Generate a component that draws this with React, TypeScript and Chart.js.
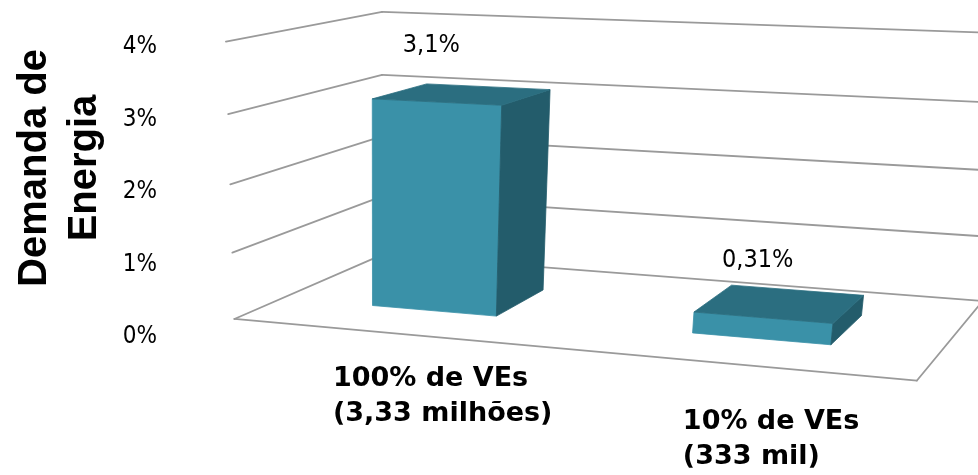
import React, { useEffect, useRef } from 'react';
import { Chart, registerables } from 'chart.js';

Chart.register(...registerables);

// ---- data ----
const categoryLines: string[][] = [
  ['100% de VEs', '(3,33 milhões)'],
  ['10% de VEs', '(333 mil)'],
];
const demandValues: number[] = [3.1, 0.31];
const valueLabels: string[] = ['3,1%', '0,31%'];
const yMin = 0;
const yMax = 4;
const yStep = 1;
const yTitleLines: string[] = ['Demanda de', 'Energia'];

// ---- 3D view: camera calibration (world X 0..1 across floor, Y 0..1 of value range, Z 0..1 front->back) ----
const CAMERA_POINTS: number[][] = [
  [0, 1, 0, 226, 43], [0, 0.75, 0, 228, 113], [0, 0.5, 0, 230, 183], [0, 0.25, 0, 232, 253], [0, 0, 0, 235, 320],
  [0, 1, 1, 382, 13], [0, 0.75, 1, 382, 74], [0, 0.5, 1, 382, 136], [0, 0.25, 1, 382, 196], [0, 0, 1, 382, 255],
  [1, 0, 0, 917, 380], [1, 0, 1, 982, 302], [1, 0.5, 1, 1000, 170], [1, 1, 1, 1017, 34],
];
const BAR_Z: [number, number] = [0.3, 0.68];

const COLORS = {
  front: '#3A91A8',
  side: '#235C6B',
  top: '#2B6E80',
  grid: '#9A9A9A',
  text: '#000000',
};
const TICK_FONT = '"DejaVu Sans Condensed", "DejaVu Sans", sans-serif';
const LABEL_FONT = '"DejaVu Sans Condensed", "DejaVu Sans", sans-serif';

function solveCamera(pts: number[][]): number[] {
  const n = 11;
  const S = 1000;
  const M: number[][] = Array.from({ length: n }, () => new Array(n + 1).fill(0));
  for (const [X, Y, Z, u0, v0] of pts) {
    const u = u0 / S, v = v0 / S;
    const rows: [number[], number][] = [
      [[X, Y, Z, 1, 0, 0, 0, 0, -u * X, -u * Y, -u * Z], u],
      [[0, 0, 0, 0, X, Y, Z, 1, -v * X, -v * Y, -v * Z], v],
    ];
    for (const [r, b] of rows) {
      for (let i = 0; i < n; i++) {
        for (let j = 0; j < n; j++) M[i][j] += r[i] * r[j];
        M[i][n] += r[i] * b;
      }
    }
  }
  for (let c = 0; c < n; c++) {
    let p = c;
    for (let r = c + 1; r < n; r++) if (Math.abs(M[r][c]) > Math.abs(M[p][c])) p = r;
    const tmp = M[c]; M[c] = M[p]; M[p] = tmp;
    for (let r = 0; r < n; r++) {
      if (r === c) continue;
      const f = M[r][c] / M[c][c];
      for (let k = c; k <= n; k++) M[r][k] -= f * M[c][k];
    }
  }
  return M.map((row, i) => row[n] / row[i]);
}

const CAM = solveCamera(CAMERA_POINTS);

function project(X: number, Y: number, Z: number): [number, number] {
  const p = CAM;
  const w = p[8] * X + p[9] * Y + p[10] * Z + 1;
  const u = (p[0] * X + p[1] * Y + p[2] * Z + p[3]) / w;
  const v = (p[4] * X + p[5] * Y + p[6] * Z + p[7]) / w;
  return [u * 1000, v * 1000];
}

type P3 = [number, number, number];

const scenePlugin = {
  id: 'scene3d',
  beforeDatasetsDraw(chart: any) {
    const ctx: CanvasRenderingContext2D = chart.ctx;
    const ys = chart.scales.y;
    const normY = (v: number) => (ys.bottom - ys.getPixelForValue(v)) / (ys.bottom - ys.top);
    const seg = (a: P3, b: P3) => {
      const pa = project(a[0], a[1], a[2]);
      const pb = project(b[0], b[1], b[2]);
      ctx.beginPath();
      ctx.moveTo(pa[0], pa[1]);
      ctx.lineTo(pb[0], pb[1]);
      ctx.stroke();
    };
    ctx.save();
    ctx.strokeStyle = COLORS.grid;
    ctx.lineWidth = 1.8;
    ctx.lineCap = 'round';
    for (const t of ys.ticks) {
      const Y = normY(t.value);
      seg([0, Y, 0], [0, Y, 1]);
      seg([0, Y, 1], [1, Y, 1]);
    }
    seg([0, 0, 0], [1, 0, 0]);
    seg([1, 0, 0], [1, 0, 1]);
    ctx.restore();
  },
  afterDatasetsDraw(chart: any) {
    const ctx: CanvasRenderingContext2D = chart.ctx;
    const xs = chart.scales.x;
    const ys = chart.scales.y;
    const meta = chart.getDatasetMeta(0);
    const [Z0, Z1] = BAR_Z;
    ctx.save();
    meta.data.forEach((el: any, i: number) => {
      const X0 = (el.x - el.width / 2 - xs.left) / xs.width;
      const X1 = (el.x + el.width / 2 - xs.left) / xs.width;
      const Y0 = (ys.bottom - el.base) / (ys.bottom - ys.top);
      const Y1 = (ys.bottom - el.y) / (ys.bottom - ys.top);
      const faces: { pts: P3[]; color: string }[] = [
        { pts: [[X0, Y0, Z0], [X1, Y0, Z0], [X1, Y1, Z0], [X0, Y1, Z0]], color: COLORS.front },
        { pts: [[X1, Y0, Z0], [X1, Y0, Z1], [X1, Y1, Z1], [X1, Y1, Z0]], color: COLORS.side },
        { pts: [[X0, Y0, Z1], [X0, Y0, Z0], [X0, Y1, Z0], [X0, Y1, Z1]], color: COLORS.side },
        { pts: [[X0, Y1, Z0], [X1, Y1, Z0], [X1, Y1, Z1], [X0, Y1, Z1]], color: COLORS.top },
      ];
      for (const f of faces) {
        const pp = f.pts.map((q) => project(q[0], q[1], q[2]));
        let area = 0;
        for (let k = 0; k < pp.length; k++) {
          const a = pp[k], b = pp[(k + 1) % pp.length];
          area += a[0] * b[1] - b[0] * a[1];
        }
        if (area >= 0) continue;
        ctx.beginPath();
        pp.forEach((q, k) => (k ? ctx.lineTo(q[0], q[1]) : ctx.moveTo(q[0], q[1])));
        ctx.closePath();
        ctx.fillStyle = f.color;
        ctx.strokeStyle = f.color;
        ctx.lineWidth = 0.8;
        ctx.fill();
        ctx.stroke();
      }
      // value label above the bar
      const xc = (X0 + X1) / 2;
      const top = project(xc, Y1, Z0);
      ctx.fillStyle = COLORS.text;
      ctx.font = `25px ${LABEL_FONT}`;
      ctx.textAlign = 'center';
      ctx.textBaseline = 'middle';
      ctx.fillText(valueLabels[i], top[0] - 5, top[1] - 57);

      // category label: lines left-aligned inside a centred block, staggered down the floor edge
      const base = project(xc, 0, 0);
      ctx.font = 'bold 27px "DejaVu Sans", sans-serif';
      const lines = categoryLines[i];
      const w = Math.max(...lines.map((s) => ctx.measureText(s).width));
      ctx.textAlign = 'left';
      lines.forEach((s, k) => {
        ctx.fillText(s, base[0] + 52 - 12 * i - w / 2, base[1] + 46 + 12 * i + k * 35);
      });
    });
    ctx.restore();
  },
  afterDraw(chart: any) {
    const ctx: CanvasRenderingContext2D = chart.ctx;
    const ys = chart.scales.y;
    ctx.save();
    ctx.fillStyle = COLORS.text;
    ctx.font = 'bold 40px "Liberation Sans", Arial, sans-serif';
    ctx.textAlign = 'center';
    ctx.textBaseline = 'alphabetic';
    const cy = (ys.top + ys.bottom) / 2 - 24;
    yTitleLines.forEach((s, k) => {
      ctx.save();
      ctx.translate(46 + k * 50, cy);
      ctx.rotate(-Math.PI / 2);
      ctx.fillText(s, 0, 0);
      ctx.restore();
    });
    ctx.restore();
  },
};

export default function App() {
  const ref = useRef<HTMLCanvasElement>(null);
  useEffect(() => {
    if (!ref.current) return;
    const chart = new Chart(ref.current, {
      type: 'bar',
      data: {
        labels: categoryLines,
        datasets: [
          {
            data: demandValues,
            backgroundColor: 'rgba(0,0,0,0)',
            borderWidth: 0,
            barPercentage: 0.4,
            categoryPercentage: 1,
          },
        ],
      },
      options: {
        responsive: false,
        animation: false,
        layout: { padding: { top: 47, bottom: 138, left: 0, right: 0 } },
        plugins: {
          legend: { display: false },
          tooltip: { enabled: false },
          title: { display: false },
        },
        scales: {
          x: { display: false },
          y: {
            min: yMin,
            max: yMax,
            ticks: {
              stepSize: yStep,
              padding: 13,
              color: COLORS.text,
              font: { family: TICK_FONT, size: 24 },
              callback: (v: any) => `${v}%`,
            },
            grid: { display: false, drawTicks: false },
            border: { display: false },
            afterFit: (s: any) => {
              s.width = 170;
            },
          },
        },
      },
      plugins: [scenePlugin],
    } as any);
    return () => chart.destroy();
  }, []);
  return (
    <div style={{ position: 'absolute', left: 0, top: 0, width: 978, height: 475, background: '#ffffff' }}>
      <canvas ref={ref} width={978} height={475} style={{ display: 'block' }} />
    </div>
  );
}
